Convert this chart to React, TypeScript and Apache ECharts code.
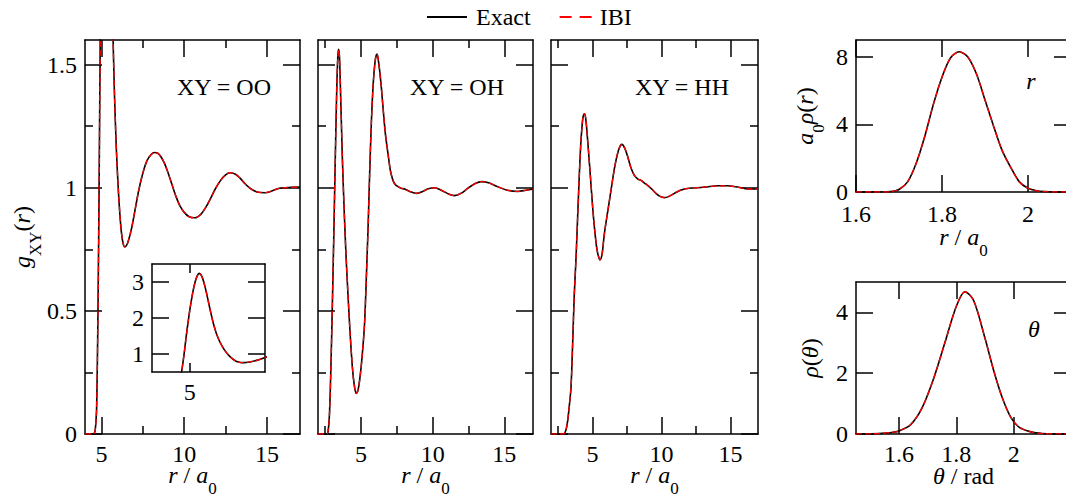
import React, { useEffect, useRef } from "react";
import * as echarts from "echarts";

// ---- radial distribution functions g_XY(r), r in units of a0 ----
const rOO = [4, 4.5, 4.6, 4.65, 4.7, 4.75, 4.8, 4.85, 4.9, 4.95, 5.0, 5.05, 5.1, 5.15, 5.2, 5.25, 5.3, 5.35, 5.4, 5.45, 5.5, 5.55, 5.6, 5.65, 5.7, 5.75, 5.8, 5.9, 6.0, 6.1, 6.2, 6.3, 6.4, 6.5, 6.6, 6.8, 7.0, 7.25, 7.5, 7.75, 8.0, 8.2, 8.4, 8.6, 8.8, 9.0, 9.25, 9.5, 9.75, 10.0, 10.3, 10.65, 11.0, 11.3, 11.6, 11.9, 12.2, 12.5, 12.77, 13.1, 13.4, 13.7, 14.0, 14.4, 14.89, 15.3, 15.7, 16.1, 16.5, 17];
const gOO = [0, 0, 0.01, 0.04, 0.1, 0.3, 0.6, 0.98, 1.42, 1.82, 2.2, 2.52, 2.8, 3.02, 3.17, 3.24, 3.2, 3.08, 2.9, 2.68, 2.44, 2.2, 1.97, 1.77, 1.6, 1.46, 1.34, 1.15, 1.01, 0.9, 0.82, 0.775, 0.76, 0.765, 0.78, 0.83, 0.9, 0.99, 1.06, 1.11, 1.135, 1.143, 1.14, 1.125, 1.1, 1.065, 1.015, 0.965, 0.925, 0.9, 0.882, 0.878, 0.892, 0.92, 0.958, 0.998, 1.03, 1.052, 1.061, 1.055, 1.037, 1.015, 0.997, 0.983, 0.98, 0.987, 0.997, 1.0, 1.002, 1.003];

const rOH = [2, 2.6, 2.7, 2.8, 2.9, 3.0, 3.1, 3.2, 3.3, 3.38, 3.44, 3.5, 3.6, 3.7, 3.8, 3.9, 4.0, 4.2, 4.4, 4.55, 4.67, 4.8, 4.95, 5.1, 5.25, 5.4, 5.5, 5.6, 5.72, 5.85, 6.0, 6.12, 6.25, 6.4, 6.53, 6.7, 6.88, 7.05, 7.23, 7.4, 7.58, 7.8, 8.05, 8.4, 8.86, 9.3, 9.7, 10.14, 10.6, 11.1, 11.53, 12.0, 12.5, 13.0, 13.4, 13.9, 14.5, 15.2, 15.95, 16.5, 17];
const gOH = [0, 0, 0.01, 0.08, 0.27, 0.52, 0.8, 1.1, 1.38, 1.53, 1.562, 1.53, 1.33, 1.12, 0.95, 0.8, 0.67, 0.45, 0.27, 0.19, 0.165, 0.18, 0.24, 0.33, 0.45, 0.68, 0.85, 1.05, 1.26, 1.42, 1.52, 1.543, 1.5, 1.42, 1.33, 1.22, 1.14, 1.07, 1.03, 1.012, 1.005, 0.998, 0.995, 0.985, 0.977, 0.985, 0.996, 1.0, 0.99, 0.975, 0.968, 0.978, 1.0, 1.018, 1.025, 1.02, 1.005, 0.99, 0.985, 0.99, 0.995];

const rHH = [2, 2.9, 3.0, 3.1, 3.2, 3.3, 3.45, 3.57, 3.69, 3.81, 3.93, 4.05, 4.15, 4.25, 4.33, 4.42, 4.52, 4.66, 4.85, 5.02, 5.18, 5.33, 5.45, 5.55, 5.7, 5.86, 6.1, 6.35, 6.6, 6.83, 7.0, 7.14, 7.35, 7.56, 7.8, 8.04, 8.3, 8.52, 8.75, 9.0, 9.3, 9.61, 9.9, 10.21, 10.55, 10.94, 11.3, 11.66, 12.2, 12.87, 13.5, 14.08, 14.8, 15.4, 16.0, 16.5, 17];
const gHH = [0, 0, 0.005, 0.02, 0.05, 0.1, 0.19, 0.37, 0.57, 0.71, 0.88, 1.05, 1.17, 1.25, 1.29, 1.3, 1.28, 1.19, 1.05, 0.92, 0.82, 0.75, 0.72, 0.707, 0.73, 0.81, 0.9, 0.99, 1.08, 1.14, 1.168, 1.176, 1.16, 1.126, 1.08, 1.05, 1.035, 1.03, 1.02, 1.01, 0.995, 0.977, 0.965, 0.96, 0.965, 0.977, 0.988, 0.995, 0.999, 1.001, 1.005, 1.008, 1.008, 1.004, 0.997, 0.995, 0.995];

// ---- bond-length and bond-angle distributions ----
const rBond = [1.6, 1.66, 1.68, 1.7, 1.72, 1.74, 1.76, 1.78, 1.8, 1.82, 1.84, 1.86, 1.88, 1.9, 1.92, 1.94, 1.96, 1.98, 2.0, 2.02, 2.04, 2.06, 2.1];
const rhoBond = [0, 0, 0.02, 0.15, 0.6, 1.7, 3.3, 5.2, 6.8, 7.95, 8.3, 8.0, 7.0, 5.45, 3.9, 2.45, 1.45, 0.6, 0.22, 0.07, 0.02, 0, 0];

const thAngle = [1.45, 1.5, 1.54, 1.58, 1.6, 1.64, 1.68, 1.72, 1.76, 1.8, 1.83, 1.86, 1.9, 1.93, 1.96, 1.99, 2.02, 2.06, 2.1, 2.15, 2.2];
const rhoAngle = [0, 0.005, 0.02, 0.06, 0.1, 0.3, 0.85, 1.8, 3.0, 4.2, 4.68, 4.4, 3.15, 2.1, 1.2, 0.55, 0.22, 0.07, 0.015, 0.003, 0];

// ---- tick positions ----
const gXTicks = [5, 10, 15];
const gXMinorOO = [7.5, 12.5];
const gXMinor = [2.5, 7.5, 12.5];
const gYTicks = [0, 0.5, 1, 1.5];
const gYMinor = [0.25, 0.75, 1.25];
const insetXTicks = [5];
const insetYTicks = [1, 2, 3];
const bondXTicks = [1.6, 1.8, 2];
const bondYTicks = [0, 4, 8];
const angleXTicks = [1.6, 1.8, 2];
const angleYTicks = [0, 2, 4];

const SERIES_NAMES = ["Exact", "IBI"];
const PANEL_TITLES = ["XY = OO", "XY = OH", "XY = HH"];

const SERIF = "Liberation Serif, Times New Roman, serif";
const BLACK = "#000000";
const RED = "#ff0000";
const AXIS_LINE = { color: BLACK, width: 1.5 };
const MAJOR = 17;
const MINOR = 8;

// rich-text styles for axis titles; "s" is a subscript pushed below the baseline
const RICH: Record<string, any> = {
  i: { fontFamily: SERIF, fontSize: 24, fontStyle: "italic", color: BLACK, lineHeight: 24, verticalAlign: "top" },
  n: { fontFamily: SERIF, fontSize: 24, color: BLACK, lineHeight: 24, verticalAlign: "top" },
  s: { fontFamily: SERIF, fontSize: 17, color: BLACK, padding: [17, 0, 0, 0], verticalAlign: "bottom" },
};

const NAME_R = "{i|r}{n| / }{i|a}{s|0}";
const NAME_G = "{i|g}{s|XY}{n|(}{i|r}{n|)}";
const NAME_BOND = "{i|a}{s|0}{i|ρ}{n|(}{i|r}{n|)}";
const NAME_ANGLE = "{i|ρ}{n|(}{i|θ}{n|)}";
const NAME_THETA = "{i|θ}{n| / rad}";

// legend keys: a solid bar and two dashes (the hairline at x=0 keeps the key 40 wide)
const ICON_SOLID = "path://M0,0h40v2h-40z";
const ICON_DASHED = "path://M0,0h0.05v2h-0.05z M8,0h12v2h-12z M28,0h12v2h-12z";

const zip = (xs: number[], ys: number[]) => xs.map((x, i) => [x, ys[i]]);

interface Frame {
  grid: { left: number; top: number; width: number; height: number };
  x: [number, number];
  y: [number, number];
  xTicks: number[];
  xMinor: number[];
  yTicks: number[];
  yMinor: number[];
  xLabels: number[];
  yLabels: number[];
  xLen: number;
  yLen: number;
  xName?: string;
  yName?: string;
  xGap?: number;
  yGap?: number;
  xMargin?: number;
}

const frames: Frame[] = [
  { grid: { left: 85, top: 40, width: 215, height: 394 }, x: [4, 17], y: [0, 1.6], xTicks: gXTicks, xMinor: gXMinorOO, yTicks: gYTicks, yMinor: gYMinor, xLabels: gXTicks, yLabels: gYTicks, xLen: MAJOR, yLen: MAJOR, xName: NAME_R, yName: NAME_G, xGap: 29, yGap: 41 },
  { grid: { left: 318, top: 40, width: 215, height: 394 }, x: [2, 17], y: [0, 1.6], xTicks: gXTicks, xMinor: gXMinor, yTicks: gYTicks, yMinor: gYMinor, xLabels: gXTicks, yLabels: [], xLen: MAJOR, yLen: MAJOR, xName: NAME_R, xGap: 29 },
  { grid: { left: 551, top: 40, width: 207, height: 394 }, x: [2, 17], y: [0, 1.6], xTicks: gXTicks, xMinor: gXMinor, yTicks: gYTicks, yMinor: gYMinor, xLabels: gXTicks, yLabels: [], xLen: MAJOR, yLen: MAJOR, xName: NAME_R, xGap: 29 },
  { grid: { left: 152, top: 264, width: 113, height: 108 }, x: [4, 7], y: [0.5, 3.5], xTicks: insetXTicks, xMinor: [], yTicks: insetYTicks, yMinor: [], xLabels: insetXTicks, yLabels: insetYTicks, xLen: 9, yLen: MAJOR },
  { grid: { left: 856, top: 40, width: 215, height: 152 }, x: [1.6, 2.1], y: [0, 9], xTicks: bondXTicks, xMinor: [], yTicks: bondYTicks, yMinor: [], xLabels: bondXTicks, yLabels: bondYTicks, xLen: MAJOR, yLen: MAJOR, xName: NAME_R, yName: NAME_BOND, xGap: 33, yGap: 29, xMargin: 10 },
  { grid: { left: 856, top: 282, width: 215, height: 152 }, x: [1.45, 2.2], y: [0, 5], xTicks: angleXTicks, xMinor: [], yTicks: angleYTicks, yMinor: [], xLabels: angleXTicks, yLabels: angleYTicks, xLen: MAJOR, yLen: MAJOR, xName: NAME_THETA, yName: NAME_ANGLE, xGap: 30, yGap: 34 },
];

// curves drawn in each frame: [frame index, x values, y values]
const curves: [number, number[], number[]][] = [
  [0, rOO, gOO],
  [1, rOH, gOH],
  [2, rHH, gHH],
  [3, rOO, gOO],
  [4, rBond, rhoBond],
  [5, thAngle, rhoAngle],
];

function axis(grid: number, position: string, range: [number, number], ticks: number[], len: number, labels: number[], showLine: boolean, name?: string, gap?: number, margin = 8) {
  return {
    type: "value",
    gridIndex: grid,
    position,
    min: range[0],
    max: range[1],
    splitLine: { show: false },
    axisLine: { show: showLine, onZero: false, lineStyle: AXIS_LINE },
    axisTick: { show: ticks.length > 0, inside: true, length: len, customValues: ticks, lineStyle: AXIS_LINE },
    axisLabel: { show: labels.length > 0, customValues: labels, margin, color: BLACK, fontFamily: SERIF, fontSize: 24 },
    name: name ?? "",
    nameLocation: "middle",
    nameGap: gap ?? 0,
    nameMoveOverlap: false,
    nameTextStyle: { fontFamily: SERIF, fontSize: 24, color: BLACK, rich: RICH },
    silent: true,
  };
}

function buildOption() {
  const xAxis: any[] = [];
  const yAxis: any[] = [];
  const idx: { x: number; y: number }[] = [];
  frames.forEach((f, g) => {
    idx.push({ x: xAxis.length, y: yAxis.length });
    xAxis.push(axis(g, "bottom", f.x, f.xTicks, f.xLen, f.xLabels, true, f.xName, f.xGap, f.xMargin ?? 8));
    xAxis.push(axis(g, "top", f.x, f.xTicks, f.xLen, [], true));
    if (f.xMinor.length) {
      xAxis.push(axis(g, "bottom", f.x, f.xMinor, MINOR, [], false));
      xAxis.push(axis(g, "top", f.x, f.xMinor, MINOR, [], false));
    }
    yAxis.push(axis(g, "left", f.y, f.yTicks, f.yLen, f.yLabels, true, f.yName, f.yGap));
    yAxis.push(axis(g, "right", f.y, f.yTicks, f.yLen, [], true));
    if (f.yMinor.length) {
      yAxis.push(axis(g, "left", f.y, f.yMinor, MINOR, [], false));
      yAxis.push(axis(g, "right", f.y, f.yMinor, MINOR, [], false));
    }
  });

  const series: any[] = [];
  curves.forEach(([fi, xs, ys]) => {
    const data = zip(xs, ys);
    series.push({
      type: "line", name: SERIES_NAMES[0], xAxisIndex: idx[fi].x, yAxisIndex: idx[fi].y,
      data, symbol: "none", smooth: 0.3, clip: true,
      lineStyle: { color: BLACK, width: 1.6 }, itemStyle: { color: BLACK }, z: 2,
    });
    series.push({
      type: "line", name: SERIES_NAMES[1], xAxisIndex: idx[fi].x, yAxisIndex: idx[fi].y,
      data, symbol: "none", smooth: 0.3, clip: true,
      lineStyle: { color: RED, width: 1.3, type: [6, 3] }, itemStyle: { color: RED }, z: 3,
    });
  });

  const label = (text: string, x: number, y: number, italic = false) => ({
    type: "text", x, y, silent: true,
    style: { text, fill: BLACK, font: `${italic ? "italic " : ""}24px ${SERIF}`, align: "center", verticalAlign: "middle", textAlign: "center", textVerticalAlign: "middle" },
  });

  return {
    animation: false,
    backgroundColor: "#ffffff",
    grid: frames.map((f) => ({ ...f.grid, containLabel: false, outerBoundsMode: "none" })),
    xAxis,
    yAxis,
    series,
    legend: {
      data: [
        { name: SERIES_NAMES[0], icon: ICON_SOLID, textStyle: { padding: [0, 0, 0, 4] } },
        { name: SERIES_NAMES[1], icon: ICON_DASHED, textStyle: { padding: [0, 0, 0, 3] } },
      ],
      top: 0, left: 422, itemWidth: 40, itemHeight: 2, itemGap: 21,
      selectedMode: false, textStyle: { fontFamily: SERIF, fontSize: 24, color: BLACK },
    },
    graphic: [
      label(PANEL_TITLES[0], 224, 87),
      label(PANEL_TITLES[1], 457, 87),
      label(PANEL_TITLES[2], 682, 87),
      label("r", 1031, 81, true),
      label("θ", 1034, 329, true),
    ],
  };
}

export default function App() {
  const ref = useRef<HTMLDivElement>(null);
  useEffect(() => {
    if (!ref.current) return;
    const chart = echarts.init(ref.current, undefined, { renderer: "svg" });
    chart.setOption(buildOption() as any);
    return () => chart.dispose();
  }, []);
  return <div ref={ref} style={{ position: "fixed", left: 0, top: 0, width: 1066, height: 500, background: "#fff" }} />;
}
